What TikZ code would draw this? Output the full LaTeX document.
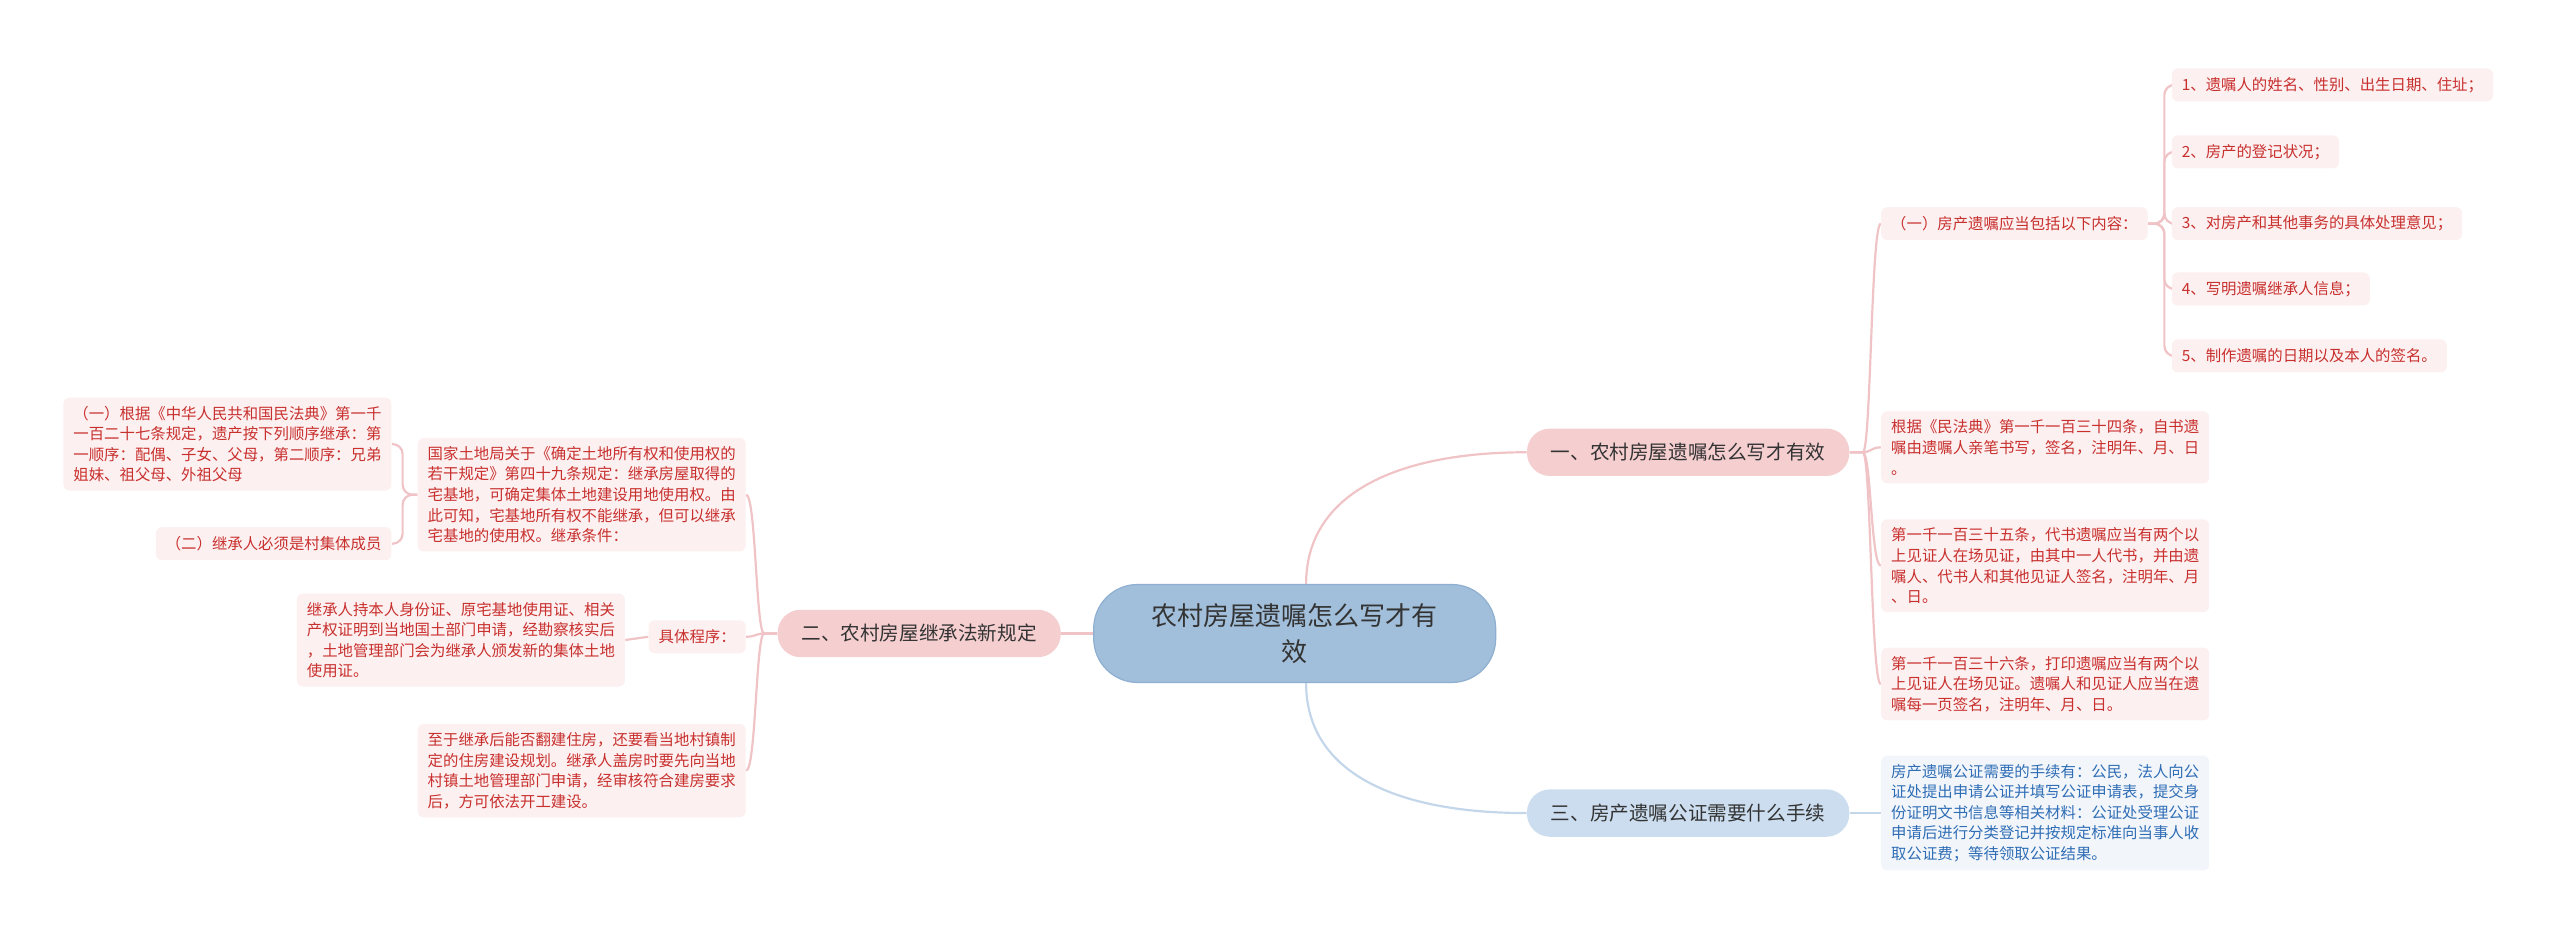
\documentclass[tikz,border=0pt]{standalone}
\usepackage{fontspec}
\newfontfamily\cjk{Noto Sans CJK SC}
\usetikzlibrary{calc,backgrounds}
\definecolor{redtxt}{HTML}{C8302E}
\definecolor{pinkfill}{HTML}{FCF0F0}
\definecolor{pinkbr}{HTML}{F5CED0}
\definecolor{pinkedge}{HTML}{F0C3C6}
\definecolor{bluefill}{HTML}{F2F6FB}
\definecolor{bluetxt}{HTML}{2F6DB5}
\definecolor{bluebr}{HTML}{CBDDEF}
\definecolor{blueedge}{HTML}{C4D7EA}
\definecolor{rootfill}{HTML}{A1BFDB}
\definecolor{rootdraw}{HTML}{8EAFD0}
\definecolor{darktxt}{HTML}{333333}
\begin{document}
\begin{tikzpicture}[x=0.8163pt,y=-0.8163pt,
  rootbox/.style={fill=rootfill, draw=rootdraw, line width=0.6pt, rounded corners=22pt,
    minimum width=201pt, minimum height=49pt, align=center, text=darktxt,
    font=\cjk\fontsize{13pt}{18pt}\selectfont, inner sep=0pt},
  branchbox/.style={rounded corners=11.5pt, minimum height=23.7pt, inner xsep=12pt,
    inner ysep=0pt, text=darktxt, font=\cjk\fontsize{9.8pt}{12pt}\selectfont},
  leafbox/.style={fill=pinkfill, rounded corners=3pt, text=redtxt, align=left,
    inner xsep=5pt, inner ysep=4.2pt, font=\cjk\fontsize{7.7pt}{10.3pt}\selectfont},
  bluebox/.style={leafbox, fill=bluefill, text=bluetxt},
  oneline/.style={minimum height=16.5pt},
  pinkline/.style={draw=pinkedge, line width=1.1pt},
  blueline/.style={draw=blueedge, line width=1.1pt}]
\useasboundingbox (0,0) rectangle (1568,574);

% central and branches
\node[rootbox] (root) at (793,388) {农村房屋遗嘱怎么写才有\\效};
\node[branchbox, fill=pinkbr] (b1) at (1034,277) {一、农村房屋遗嘱怎么写才有效};
\node[branchbox, fill=pinkbr] (b2) at (563,388) {二、农村房屋继承法新规定};
\node[branchbox, fill=bluebr] (b3) at (1034,498) {三、房产遗嘱公证需要什么手续};

% right side
\node[leafbox, oneline, anchor=west] (r1) at (1152,137) {（一）房产遗嘱应当包括以下内容：};
\node[leafbox, oneline, anchor=west] (i1) at (1330,52) {1、遗嘱人的姓名、性别、出生日期、住址；};
\node[leafbox, oneline, anchor=west] (i2) at (1330,93) {2、房产的登记状况；};
\node[leafbox, oneline, anchor=west] (i3) at (1330,137) {3、对房产和其他事务的具体处理意见；};
\node[leafbox, oneline, anchor=west] (i4) at (1330,177) {4、写明遗嘱继承人信息；};
\node[leafbox, oneline, anchor=west] (i5) at (1330,218) {5、制作遗嘱的日期以及本人的签名。};
\node[leafbox, anchor=west] (r2) at (1152,274) {根据《民法典》第一千一百三十四条，自书遗\\嘱由遗嘱人亲笔书写，签名，注明年、月、日\\。};
\node[leafbox, anchor=west] (r3) at (1152,346.5) {第一千一百三十五条，代书遗嘱应当有两个以\\上见证人在场见证，由其中一人代书，并由遗\\嘱人、代书人和其他见证人签名，注明年、月\\、日。};
\node[leafbox, anchor=west] (r4) at (1152,419) {第一千一百三十六条，打印遗嘱应当有两个以\\上见证人在场见证。遗嘱人和见证人应当在遗\\嘱每一页签名，注明年、月、日。};
\node[bluebox, anchor=west] (r5) at (1152,498) {房产遗嘱公证需要的手续有：公民，法人向公\\证处提出申请公证并填写公证申请表，提交身\\份证明文书信息等相关材料：公证处受理公证\\申请后进行分类登记并按规定标准向当事人收\\取公证费；等待领取公证结果。};

% left side
\node[leafbox, anchor=east] (l1) at (457,303) {国家土地局关于《确定土地所有权和使用权的\\若干规定》第四十九条规定：继承房屋取得的\\宅基地，可确定集体土地建设用地使用权。由\\此可知，宅基地所有权不能继承，但可以继承\\宅基地的使用权。继承条件：};
\node[leafbox, anchor=east] (l1a) at (240,272) {（一）根据《中华人民共和国民法典》第一千\\一百二十七条规定，遗产按下列顺序继承：第\\一顺序：配偶、子女、父母，第二顺序：兄弟\\姐妹、祖父母、外祖父母};
\node[leafbox, oneline, anchor=east] (l1b) at (240,333) {（二）继承人必须是村集体成员};
\node[leafbox, oneline, anchor=east] (l2) at (457,390) {具体程序：};
\node[leafbox, anchor=east] (l2a) at (383,392) {继承人持本人身份证、原宅基地使用证、相关\\产权证明到当地国土部门申请，经勘察核实后\\，土地管理部门会为继承人颁发新的集体土地\\使用证。};
\node[leafbox, anchor=east] (l3) at (457,472) {至于继承后能否翻建住房，还要看当地村镇制\\定的住房建设规划。继承人盖房时要先向当地\\村镇土地管理部门申请，经审核符合建房要求\\后，方可依法开工建设。};

\begin{pgfonlayer}{background}
\draw[pinkline] ([xshift=5.7pt]root.north) .. controls +(0,-55) and +(-80,0) .. (b1.west);
\draw[blueline] ([xshift=5.7pt]root.south) .. controls +(0,55) and +(-80,0) .. (b3.west);
\draw[pinkline] (root.west) -- (b2.east);
\foreach \c in {r1,r2,r3,r4}
  \draw[pinkline] (b1.east) -- ++(8,0) .. controls +(5,0) and +(-6,0) .. (\c.west);
\foreach \c in {i1,i2,i3,i4,i5}
  \draw[pinkline, rounded corners=5pt] (r1.east) -- ++(10,0) |- (\c.west);
\draw[blueline] (b3.east) -- (r5.west);
\foreach \c in {l1,l2,l3}
  \draw[pinkline] (b2.west) -- ++(-8,0) .. controls +(-5,0) and +(6,0) .. (\c.east);
\foreach \c in {l1a,l1b}
  \draw[pinkline, rounded corners=5pt] (l1.west) -- ++(-9,0) |- (\c.east);
\draw[pinkline] (l2.west) -- (l2a.east);
\end{pgfonlayer}
\end{tikzpicture}
\end{document}
